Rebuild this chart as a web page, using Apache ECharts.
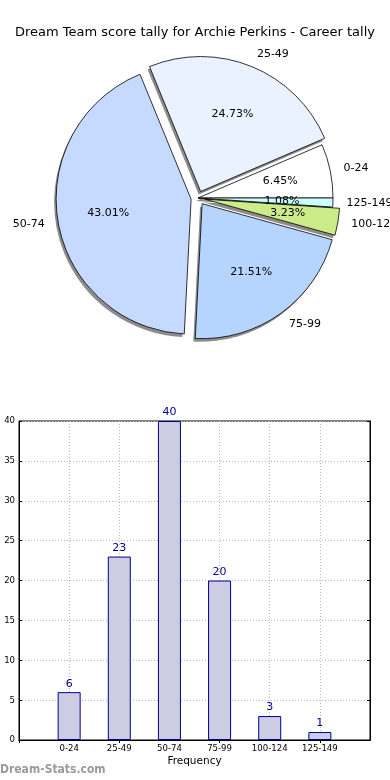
<!DOCTYPE html>
<html><head><meta charset="utf-8">
<script src="https://cdn.jsdelivr.net/npm/echarts@6/dist/echarts.min.js"></script>
<style>html,body{margin:0;padding:0;background:#fff}#c{width:390px;height:780px}</style>
</head><body><div id="c"></div>
<script>
const categories = ['0-24', '25-49', '50-74', '75-99', '100-124', '125-149'];
const counts = [6, 23, 40, 20, 3, 1];
const sliceColors = ['#ffffff', '#eaf2ff', '#c6daff', '#b5d5ff', '#ccec8a', '#ccffff'];
const exploded = [false, true, true, true, true, false];
const yTicks = [0, 5, 10, 15, 20, 25, 30, 35, 40];
const titleText = 'Dream Team score tally for Archie Perkins - Career tally';

const total = counts.reduce((a, b) => a + b, 0);
const R = 135;
const CX = 198, CY = 198;
const FONT = 'DejaVu Sans';
const CFONT = 'DejaVu Sans Condensed';

const pieData = categories.map((c, i) => ({
  name: c, value: counts[i], selected: exploded[i],
  itemStyle: { color: sliceColors[i] }
}));
const pieLabelData = categories.map((c, i) => ({
  name: c, value: counts[i], selected: exploded[i]
}));

const pieBase = {
  type: 'pie', startAngle: 0, clockwise: false,
  selectedMode: 'multiple', selectedOffset: 7, silent: true,
  emphasis: { disabled: true }, labelLine: { show: false }
};

const chart = echarts.init(document.getElementById('c'), null, { renderer: 'canvas' });
chart.setOption({
  animation: false,
  title: {
    text: titleText, left: 'center', top: 21,
    textStyle: { fontFamily: FONT, fontSize: 13, fontWeight: 'normal', color: '#000' }
  },
  graphic: [{
    type: 'text', left: 0, top: 764,
    style: { text: 'Dream-Stats.com', fill: '#9a9a9a', font: 'bold 12px "DejaVu Sans Condensed", "DejaVu Sans"' }
  }],
  grid: {
    left: 19, right: 20, top: 421, bottom: 40, show: true,
    borderColor: '#000', borderWidth: 1, containLabel: false
  },
  xAxis: [{
    type: 'category', boundaryGap: false,
    data: ['', ...categories, ''],
    name: 'Frequency', nameLocation: 'middle', nameGap: 16,
    nameTextStyle: { fontFamily: FONT, fontSize: 10.5, color: '#000' },
    axisLine: { lineStyle: { color: '#000' } },
    axisTick: { inside: true, length: 3, lineStyle: { color: '#000' } },
    axisLabel: { fontFamily: CFONT, fontSize: 9.5, color: '#000', margin: 4, interval: 0 },
    splitLine: { show: true, lineStyle: { color: '#b8b8b8', type: [1, 2], width: 1 } }
  }, {
    type: 'category', boundaryGap: false, position: 'top',
    data: ['', ...categories, ''],
    axisLine: { lineStyle: { color: '#000' } },
    axisTick: { inside: true, length: 3, lineStyle: { color: '#000' } },
    axisLabel: { show: false }, splitLine: { show: false }
  }],
  yAxis: [{
    type: 'value', min: yTicks[0], max: yTicks[yTicks.length - 1], interval: 5,
    axisLine: { show: true, lineStyle: { color: '#000' } },
    axisTick: { show: true, inside: true, length: 3, lineStyle: { color: '#000' } },
    axisLabel: { fontFamily: CFONT, fontSize: 9.5, color: '#000', margin: 4 },
    splitLine: { show: true, lineStyle: { color: '#b8b8b8', type: [1, 2], width: 1 } }
  }, {
    type: 'value', min: yTicks[0], max: yTicks[yTicks.length - 1], interval: 5, position: 'right',
    axisLine: { show: true, lineStyle: { color: '#000' } },
    axisTick: { show: true, inside: true, length: 3, lineStyle: { color: '#000' } },
    axisLabel: { show: false }, splitLine: { show: false }
  }],
  series: [
    Object.assign({}, pieBase, {
      center: [CX - 2, CY + 3], radius: [0, R], data: pieLabelData,
      itemStyle: { color: '#8c8c8c', borderWidth: 0 },
      label: { show: false }, z: 1
    }),
    Object.assign({}, pieBase, {
      center: [CX, CY], radius: [0, R], data: pieData,
      itemStyle: { borderColor: '#000', borderWidth: 0.8 },
      label: { show: false }, z: 2
    }),
    Object.assign({}, pieBase, {
      center: [CX, CY], radius: [R * 0.2, R], data: pieLabelData,
      itemStyle: { color: 'rgba(0,0,0,0)', borderWidth: 0 },
      label: {
        show: true, position: 'inside', fontFamily: FONT, fontSize: 11, color: '#000',
        formatter: p => (p.value / total * 100).toFixed(2) + '%'
      },
      z: 3
    }),
    Object.assign({}, pieBase, {
      center: [CX, CY], radius: [0, R], data: pieLabelData,
      itemStyle: { color: 'rgba(0,0,0,0)', borderWidth: 0 },
      label: {
        show: true, position: 'outside', fontFamily: FONT, fontSize: 11, color: '#000',
        distanceToLabelLine: 0, overflow: 'none', formatter: '{b}'
      },
      labelLine: { show: false, length: R * 0.1, length2: 0 },
      z: 3
    }),
    {
      type: 'bar', xAxisIndex: 0, yAxisIndex: 0,
      data: [null, ...counts, null], barWidth: 23,
      itemStyle: { color: '#cccce3', borderColor: '#000090', borderWidth: 1 },
      label: { show: true, position: 'top', distance: 3, fontFamily: FONT, fontSize: 11, color: '#000090' },
      emphasis: { disabled: true }, z: 2
    }
  ]
});
</script></body></html>
